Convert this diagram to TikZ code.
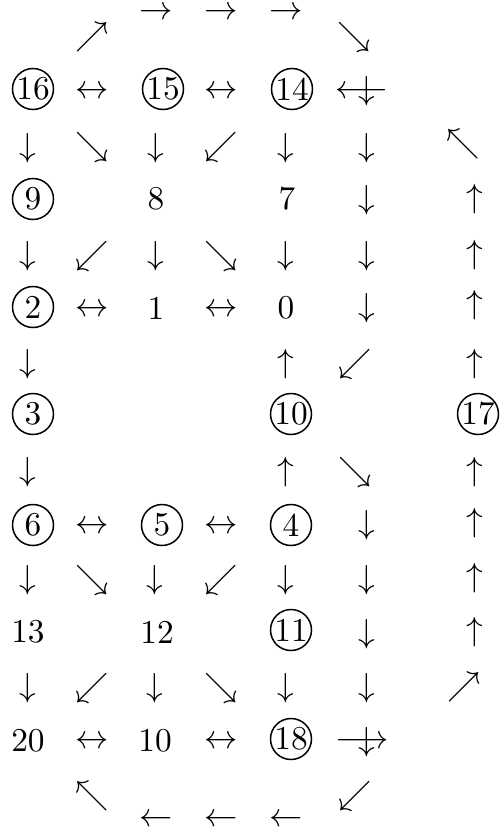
\documentclass[tikz,border=0pt]{standalone}
\begin{document}
\begin{tikzpicture}[x=0.3pt,y=-0.3pt,
  cir/.style={circle,draw,line width=0.45pt,inner sep=0pt,minimum size=12.3pt},
  sym/.style={inner sep=0pt}]
\useasboundingbox (0,0) rectangle (500,832);
% top
\node[sym] (a1) at (92,37) {$\nearrow$};
\node[sym] (a2) at (156,13) {$\rightarrow$};
\node[sym] (a3) at (221,13) {$\rightarrow$};
\node[sym] (a4) at (286,13) {$\rightarrow$};
\node[sym] (a5) at (354,37) {$\searrow$};
% row 16
\node[cir] (n16) at (33,89) {16};
\node[sym] (r1) at (92,92) {$\leftrightarrow$};
\node[cir] (n15) at (163,89) {15};
\node[sym] (r2) at (221,92) {$\leftrightarrow$};
\node[cir] (n14) at (292,89) {14};
\node[sym] (x1) at (362,92) {$\longleftarrow$};
\node[sym] (x1d) at (367,91) {$\downarrow$};
% arrows
\node[sym] (d11) at (28,148) {$\downarrow$};
\node[sym] (d12) at (92,147) {$\searrow$};
\node[sym] (d13) at (156,148) {$\downarrow$};
\node[sym] (d14) at (221,147) {$\swarrow$};
\node[sym] (d15) at (286,148) {$\downarrow$};
\node[sym] (d16) at (367,148) {$\downarrow$};
\node[sym] (d17) at (463,144) {$\nwarrow$};
% row 9
\node[cir] (n9) at (33,199) {9};
\node[sym] (t8) at (156,199) {8};
\node[sym] (t7) at (287,199) {7};
\node[sym] (d26) at (367,200) {$\downarrow$};
\node[sym] (u27) at (475,199) {$\uparrow$};
% arrows
\node[sym] (d31) at (28,256) {$\downarrow$};
\node[sym] (d32) at (92,256) {$\swarrow$};
\node[sym] (d33) at (156,256) {$\downarrow$};
\node[sym] (d34) at (221,256) {$\searrow$};
\node[sym] (d35) at (286,256) {$\downarrow$};
\node[sym] (d36) at (367,256) {$\downarrow$};
\node[sym] (u37) at (475,255) {$\uparrow$};
% row 2
\node[cir] (n2) at (33,307) {2};
\node[sym] (r3) at (92,310) {$\leftrightarrow$};
\node[sym] (t1) at (156,308) {1};
\node[sym] (r4) at (221,310) {$\leftrightarrow$};
\node[sym] (t0) at (286,308) {0};
\node[sym] (d46) at (367,308) {$\downarrow$};
\node[sym] (u47) at (475,305) {$\uparrow$};
% arrows
\node[sym] (d51) at (28,364) {$\downarrow$};
\node[sym] (u55) at (286,364) {$\uparrow$};
\node[sym] (d56) at (355,364) {$\swarrow$};
\node[sym] (u57) at (475,364) {$\uparrow$};
% row 3
\node[cir] (n3) at (33,414) {3};
\node[cir] (n10) at (291,414) {10};
\node[cir] (n17) at (478,414) {17};
% arrows
\node[sym] (d71) at (28,472) {$\downarrow$};
\node[sym] (u75) at (286,472) {$\uparrow$};
\node[sym] (d76) at (355,472) {$\searrow$};
\node[sym] (u77) at (475,472) {$\uparrow$};
% row 6
\node[cir] (n6) at (33,525) {6};
\node[sym] (r5) at (92,527) {$\leftrightarrow$};
\node[cir] (n5) at (162,525) {5};
\node[sym] (r6) at (221,527) {$\leftrightarrow$};
\node[cir] (n4) at (291,525) {4};
\node[sym] (d86) at (367,525) {$\downarrow$};
\node[sym] (u87) at (475,523) {$\uparrow$};
% arrows
\node[sym] (d91) at (28,580) {$\downarrow$};
\node[sym] (d92) at (92,580) {$\searrow$};
\node[sym] (d93) at (155,580) {$\downarrow$};
\node[sym] (d94) at (221,580) {$\swarrow$};
\node[sym] (d95) at (286,580) {$\downarrow$};
\node[sym] (d96) at (367,580) {$\downarrow$};
\node[sym] (u97) at (475,578) {$\uparrow$};
% row 13
\node[sym] (t13) at (28,632) {13};
\node[sym] (t12) at (157,632) {12};
\node[cir] (n11) at (291,630) {11};
\node[sym] (d106) at (367,634) {$\downarrow$};
\node[sym] (u107) at (475,632) {$\uparrow$};
% arrows
\node[sym] (d111) at (28,688) {$\downarrow$};
\node[sym] (d112) at (92,688) {$\swarrow$};
\node[sym] (d113) at (155,688) {$\downarrow$};
\node[sym] (d114) at (221,688) {$\searrow$};
\node[sym] (d115) at (286,688) {$\downarrow$};
\node[sym] (d116) at (367,688) {$\downarrow$};
\node[sym] (d117) at (464,687) {$\nearrow$};
% row 20
\node[sym] (t20) at (28,741) {20};
\node[sym] (r7) at (92,742) {$\leftrightarrow$};
\node[sym] (t10) at (155,741) {10};
\node[sym] (r8) at (221,742) {$\leftrightarrow$};
\node[cir] (n18) at (291,739) {18};
\node[sym] (x2) at (362,742) {$\longrightarrow$};
\node[sym] (x2d) at (367,742) {$\downarrow$};
% bottom
\node[sym] (b1) at (92,796) {$\nwarrow$};
\node[sym] (b2) at (355,796) {$\swarrow$};
\node[sym] (l1) at (156,820) {$\leftarrow$};
\node[sym] (l2) at (221,820) {$\leftarrow$};
\node[sym] (l3) at (286,820) {$\leftarrow$};
\end{tikzpicture}
\end{document}
